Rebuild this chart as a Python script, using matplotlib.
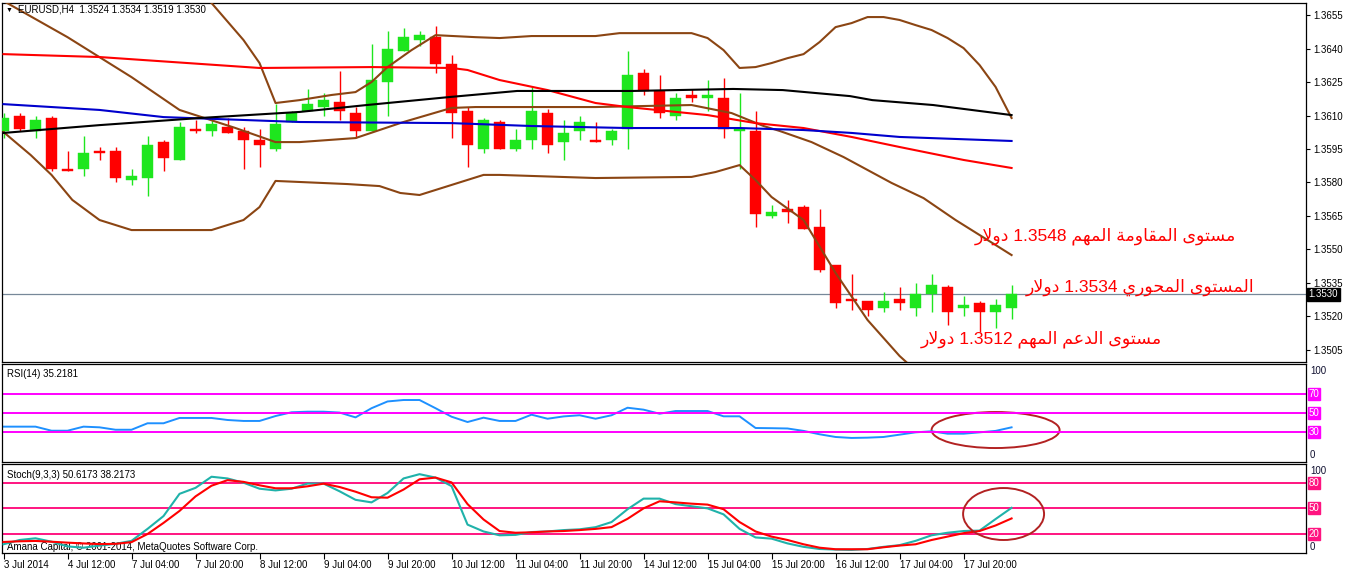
import re
import numpy as np
import matplotlib
matplotlib.use('Agg')
import matplotlib.pyplot as plt
from matplotlib.patches import Ellipse

# EURUSD H4, bars from 3 Jul 20:00 to 18 Jul 08:00
opens = [1.3603, 1.3610, 1.3603, 1.3609, 1.3586, 1.3586, 1.3594, 1.3594, 1.3581, 1.3582,
         1.3598, 1.3590, 1.3604, 1.3603, 1.3605, 1.3603, 1.3599, 1.3595, 1.3607, 1.3612,
         1.3614, 1.3616, 1.3611, 1.3603, 1.3625, 1.3639, 1.3644, 1.3645, 1.3633, 1.3612,
         1.3595, 1.3607, 1.3595, 1.3599, 1.3611, 1.3598, 1.3603, 1.3599, 1.3599, 1.3604,
         1.3629, 1.3621, 1.3610, 1.3619, 1.3618, 1.3618, 1.3603, 1.3603, 1.3565, 1.3568,
         1.3569, 1.3560, 1.3543, 1.3528, 1.3527, 1.3524, 1.3528, 1.3524, 1.3530, 1.3533,
         1.3524, 1.3526, 1.3522, 1.3524]
highs = [1.3611, 1.3611, 1.3610, 1.3610, 1.3594, 1.3601, 1.3596, 1.3596, 1.3586, 1.3601,
         1.3599, 1.3607, 1.3608, 1.3609, 1.3609, 1.3605, 1.3604, 1.3615, 1.3612, 1.3622,
         1.3620, 1.3630, 1.3614, 1.3642, 1.3648, 1.3649, 1.3648, 1.3650, 1.3637, 1.3614,
         1.3609, 1.3608, 1.3604, 1.3623, 1.3613, 1.3608, 1.3610, 1.3607, 1.3604, 1.3639,
         1.3631, 1.3628, 1.3620, 1.3622, 1.3626, 1.3627, 1.3620, 1.3612, 1.3570, 1.3572,
         1.3570, 1.3568, 1.3543, 1.3539, 1.3527, 1.3531, 1.3533, 1.3535, 1.3539, 1.3534,
         1.3529, 1.3527, 1.3528, 1.3534]
lows = [1.3600, 1.3603, 1.3600, 1.3585, 1.3585, 1.3583, 1.3590, 1.3580, 1.3579, 1.3574,
        1.3585, 1.3590, 1.3602, 1.3601, 1.3602, 1.3586, 1.3587, 1.3594, 1.3607, 1.3612,
        1.3610, 1.3608, 1.3600, 1.3603, 1.3610, 1.3639, 1.3641, 1.3629, 1.3600, 1.3587,
        1.3593, 1.3595, 1.3594, 1.3595, 1.3593, 1.3590, 1.3599, 1.3598, 1.3597, 1.3595,
        1.3619, 1.3609, 1.3608, 1.3616, 1.3612, 1.3600, 1.3586, 1.3560, 1.3564, 1.3562,
        1.3559, 1.3540, 1.3524, 1.3523, 1.3520, 1.3522, 1.3523, 1.3520, 1.3522, 1.3516,
        1.3520, 1.3513, 1.3515, 1.3519]
closes = [1.3609, 1.3604, 1.3608, 1.3586, 1.3585, 1.3593, 1.3593, 1.3582, 1.3583, 1.3597,
          1.3591, 1.3605, 1.3603, 1.3606, 1.3602, 1.3599, 1.3597, 1.3606, 1.3611, 1.3615,
          1.3617, 1.3612, 1.3603, 1.3626, 1.3640, 1.3645, 1.3646, 1.3633, 1.3611, 1.3597,
          1.3608, 1.3595, 1.3599, 1.3612, 1.3597, 1.3602, 1.3607, 1.3598, 1.3603, 1.3628,
          1.3621, 1.3611, 1.3618, 1.3618, 1.3619, 1.3604, 1.3604, 1.3566, 1.3567, 1.3567,
          1.3559, 1.3541, 1.3526, 1.3527, 1.3523, 1.3527, 1.3526, 1.3530, 1.3534, 1.3522,
          1.3525, 1.3522, 1.3525, 1.3530]

# overlay lines: (bar index, price)
red_ma_x = [0, 6, 16, 23, 28, 29, 31, 34, 37, 39, 44, 47, 50, 53, 56, 60, 63]
red_ma_y = [1.36375, 1.36362, 1.36313, 1.36317, 1.36313, 1.36304, 1.36259, 1.36214, 1.36156,
            1.36138, 1.36102, 1.36066, 1.36044, 1.36004, 1.35959, 1.35901, 1.35865]
blue_ma_x = [0, 6, 10, 18.5, 28, 33, 39, 46, 50, 53, 56, 63]
blue_ma_y = [1.36151, 1.36125, 1.36093, 1.36071, 1.36066, 1.36053, 1.36044, 1.36044,
             1.36035, 1.36022, 1.36004, 1.35986]
black_ma_x = [0, 6, 12.3, 18.5, 22.7, 27.9, 32.1, 39.3, 45.6, 48.7, 52.9, 54.3, 58.1, 63]
black_ma_y = [1.36022, 1.36057, 1.36089, 1.36116, 1.36147, 1.36183, 1.36210, 1.36210,
              1.36219, 1.36214, 1.36187, 1.36169, 1.36147, 1.36102]

bb_up_x = [9, 13, 15, 16, 17, 18.5, 20.5, 22, 23, 24, 25.5, 27, 29.5, 31, 33, 37, 38.5, 43,
           44, 45, 46, 47, 48, 49, 50, 51, 52, 53, 54, 55, 56, 57, 58, 59, 60, 61, 62, 63]
bb_up_y = [1.36886, 1.36604, 1.36438, 1.36335, 1.36156, 1.36169, 1.36192, 1.36205, 1.36250,
           1.36317, 1.36393, 1.36460, 1.36451, 1.36447, 1.36456, 1.36456, 1.36469, 1.36469,
           1.36447, 1.36393, 1.36313, 1.36317, 1.36335, 1.36357, 1.36375, 1.36429, 1.36496,
           1.36514, 1.36541, 1.36541, 1.36528, 1.36505, 1.36483, 1.36447, 1.36402, 1.36326,
           1.36228, 1.36089]
bb_mid_x = [0, 4, 8, 11, 14.5, 17, 18.5, 22, 25, 28, 29.5, 37, 43, 45.5, 47.5, 48.5, 50.5,
            52.5, 55.5, 57.5, 59.5, 62, 63]
bb_mid_y = [1.36613, 1.36451, 1.36272, 1.36125, 1.36044, 1.35981, 1.35981, 1.35999, 1.36071,
            1.36134, 1.36138, 1.36138, 1.36147, 1.36111, 1.36053, 1.36031, 1.35981, 1.35914,
            1.35798, 1.35730, 1.35632, 1.35520, 1.35475]
bb_low_x = [0, 1.7, 3, 4.3, 6, 8, 13, 15, 16, 17, 21.5, 23.5, 24.8, 26, 28, 30, 31, 37, 43,
            44.5, 46, 47, 48, 50, 52, 54, 56, 58, 63]
bb_low_y = [1.36026, 1.35923, 1.35834, 1.35722, 1.35632, 1.35587, 1.35587, 1.35632, 1.35690,
            1.35807, 1.35793, 1.35784, 1.35753, 1.35744, 1.35789, 1.35834, 1.35834, 1.35820,
            1.35825, 1.35847, 1.35878, 1.35811, 1.35735, 1.35632, 1.35395, 1.35184, 1.35023,
            1.34893, 1.34647]

rsi = [35.9, 35.9, 35.9, 31.7, 31.7, 35.9, 35.2, 32.7, 32.7, 39.4, 39.4, 44.9, 44.9, 44.9,
       42.8, 41.8, 41.8, 46.9, 50.8, 51.4, 51.4, 50.5, 45.5, 55.0, 62.0, 63.5, 63.5, 55.0,
       46.2, 40.7, 45.2, 41.8, 41.8, 48.3, 44.1, 46.5, 47.7, 44.1, 47.7, 55.5, 53.5, 49.3,
       52.1, 52.1, 52.1, 46.6, 46.6, 34.5, 34.3, 34.0, 31.5, 28.0, 25.2, 24.2, 24.5, 25.2,
       27.6, 30.0, 31.1, 28.6, 28.6, 30.0, 31.5, 35.2]
stoch_k = [8, 13, 15, 11, 5.5, 4, 6.5, 8.5, 12, 26, 41, 67, 74, 87, 85, 80, 73, 71, 73, 79,
           79, 70, 60, 57, 68, 85, 90, 86, 76, 31, 23, 18.5, 19, 22.3, 23, 24.6, 25.5, 28, 34,
           49, 61.4, 61.4, 55, 52.5, 50, 43, 26, 16, 14.6, 9, 5, 2.5, 1.8, 1.4, 2.5, 5, 7, 12,
           18.5, 21.5, 23.5, 24, 37.5, 50.6173]
stoch_d = [10.7, 11.5, 11.9, 11, 9.9, 9, 8.2, 8.5, 10.5, 20, 33, 47, 64, 76.5, 83, 81, 77,
           73.5, 73.5, 75.8, 78.9, 75, 69.5, 63, 62.5, 72, 84, 86, 80.4, 55, 37, 23.5, 21.5,
           22, 23, 23.5, 24.6, 26, 28.1, 37.8, 50, 58.3, 57, 55.5, 54.4, 49, 34, 23, 17, 13,
           8, 4, 2.2, 2.2, 2.2, 4.5, 6.5, 8, 13, 17, 21, 23.5, 30, 38.2173]

date_ticks = [0, 4, 8, 12, 16, 20, 24, 28, 32, 36, 40, 44, 48, 52, 56, 60]
date_labels = ['3 Jul 2014', '4 Jul 12:00', '7 Jul 04:00', '7 Jul 20:00', '8 Jul 12:00',
               '9 Jul 04:00', '9 Jul 20:00', '10 Jul 12:00', '11 Jul 04:00', '11 Jul 20:00',
               '14 Jul 12:00', '15 Jul 04:00', '15 Jul 20:00', '16 Jul 12:00', '17 Jul 04:00',
               '17 Jul 20:00']
price_ticks = [1.3505, 1.3520, 1.3535, 1.3550, 1.3565, 1.3580, 1.3595, 1.3610, 1.3625,
               1.3640, 1.3655]
last_price = 1.3530
rsi_levels = [30, 50, 70]
stoch_levels = [20, 50, 80]

notes = [('مستوى المقاومة المهم 1.3548 دولار', 77.0, 1.35542),
         ('المستوى المحوري 1.3534 دولار', 78.2, 1.35310),
         ('مستوى الدعم المهم 1.3512 دولار', 72.4, 1.35077)]

# --- minimal arabic shaping (matplotlib has none)
FORMS = {
    'ا': ('\ufe8d', '\ufe8e', None, None), 'ة': ('\ufe93', '\ufe94', None, None),
    'ت': ('\ufe95', '\ufe96', '\ufe97', '\ufe98'), 'ح': ('\ufea1', '\ufea2', '\ufea3', '\ufea4'),
    'د': ('\ufea9', '\ufeaa', None, None), 'ر': ('\ufead', '\ufeae', None, None),
    'س': ('\ufeb1', '\ufeb2', '\ufeb3', '\ufeb4'), 'ع': ('\ufec9', '\ufeca', '\ufecb', '\ufecc'),
    'ق': ('\ufed5', '\ufed6', '\ufed7', '\ufed8'), 'ل': ('\ufedd', '\ufede', '\ufedf', '\ufee0'),
    'م': ('\ufee1', '\ufee2', '\ufee3', '\ufee4'), 'ه': ('\ufee9', '\ufeea', '\ufeeb', '\ufeec'),
    'و': ('\ufeed', '\ufeee', None, None), 'ى': ('\ufeef', '\ufef0', None, None),
    'ي': ('\ufef1', '\ufef2', '\ufef3', '\ufef4'), 'لا': ('\ufefb', '\ufefc', None, None),
}


def shape_ar(text):
    letters = []
    i = 0
    while i < len(text):
        if text[i] == 'ل' and i + 1 < len(text) and text[i + 1] == 'ا':
            letters.append('لا')
            i += 2
        else:
            letters.append(text[i])
            i += 1
    out = []
    for k, ch in enumerate(letters):
        if ch not in FORMS:
            out.append(ch)
            continue
        prev = letters[k - 1] if k > 0 else None
        nxt = letters[k + 1] if k + 1 < len(letters) else None
        jp = prev in FORMS and FORMS[prev][2] is not None
        jn = nxt in FORMS and FORMS[ch][2] is not None
        iso, fin, ini, med = FORMS[ch]
        out.append(med if jp and jn else fin if jp else ini if jn else iso)
    vis = ''.join(out)[::-1]
    return re.sub(r'[0-9.]+', lambda m: m.group(0)[::-1], vis)


plt.rcParams['font.family'] = ['Liberation Sans', 'DejaVu Sans']
BULL = '#1ee61e'
BEAR = '#ff0000'
W, H = 1346, 571


def box(top, bottom):
    return [2 / W, 1 - bottom / H, 1304 / W, (bottom - top) / H]


def level_box(a, lv, colour):
    a.text(1.002, lv, str(lv), transform=a.get_yaxis_transform(), color='white',
           fontsize=7, va='center', ha='left',
           bbox=dict(boxstyle='square,pad=0.1', fc=colour, ec=colour))


def side_label(a, pos, txt):
    a.text(1.003, pos, txt, transform=a.get_yaxis_transform(), fontsize=7,
           va='center', ha='left', color='#101030')


fig = plt.figure(figsize=(W / 100, H / 100), dpi=100)
ax = fig.add_axes(box(3, 362))
ax_rsi = fig.add_axes(box(364, 461.5))
ax_st = fig.add_axes(box(464, 553))

bars = np.arange(len(opens))
o = np.array(opens)
c = np.array(closes)
cols = np.where(c >= o, BULL, BEAR)
ax.vlines(bars, lows, highs, colors=cols, lw=1, zorder=2)
ax.bar(bars, np.maximum(np.abs(c - o), 0.00005), bottom=np.minimum(o, c), width=0.68,
       color=cols, edgecolor=cols, lw=0.3, zorder=3)

ax.axhline(last_price, color='#778899', lw=0.9, zorder=1)
brown = '#8b4513'
for xs, ys in [(bb_up_x, bb_up_y), (bb_mid_x, bb_mid_y), (bb_low_x, bb_low_y)]:
    ax.plot(xs, ys, color=brown, lw=1.5, zorder=4)
ax.plot(red_ma_x, red_ma_y, color='#ff0000', lw=1.5, zorder=4)
ax.plot(blue_ma_x, blue_ma_y, color='#0000cd', lw=1.5, zorder=4)
ax.plot(black_ma_x, black_ma_y, color='black', lw=1.5, zorder=4)

for txt, x, y in notes:
    ax.text(x, y, shape_ar(txt), color='red', fontsize=12.5, ha='right', va='baseline',
            zorder=6)

xlim = (-0.094, 81.4)
ax.set_xlim(*xlim)
ax.set_ylim(1.34996, 1.36604)
ax.set_yticks(price_ticks)
ax.set_yticklabels(['%.4f' % p for p in price_ticks])
ax.text(1.002, last_price, '%.4f' % last_price, transform=ax.get_yaxis_transform(),
        color='white', fontsize=7, va='center', ha='left',
        bbox=dict(boxstyle='square,pad=0.15', fc='black', ec='black'))

# RSI
ax_rsi.plot(bars, rsi, color='#1e90ff', lw=1.4)
for lv in rsi_levels:
    ax_rsi.axhline(lv, color='#ff00ff', lw=1.4)
    level_box(ax_rsi, lv, '#ff00ff')
side_label(ax_rsi, 93.6, '100')
side_label(ax_rsi, 6.5, '0')
ax_rsi.add_patch(Ellipse((62.0, 32.4), 8.0, 37.3, fill=False, ec='#b22222', lw=1.4))
ax_rsi.set_ylim(-0.2, 100.8)
ax_rsi.text(0.004, 0.87, 'RSI(14) 35.2181', transform=ax_rsi.transAxes, fontsize=7)

# Stochastic
st_pink = '#ff1480'
for lv in stoch_levels:
    ax_st.axhline(lv, color=st_pink, lw=1.4, zorder=1)
    level_box(ax_st, lv, st_pink)
side_label(ax_st, 93.7, '100')
side_label(ax_st, 4.8, '0')
ax_st.text(0.004, 0.03, 'Amana Capital, \u00a9 2001-2014, MetaQuotes Software Corp.',
           transform=ax_st.transAxes, fontsize=7, zorder=2)
ax_st.plot(bars, stoch_k, color='#20b2aa', lw=1.5, zorder=3)
ax_st.plot(bars, stoch_d, color='#ff0000', lw=1.5, zorder=4)
ax_st.add_patch(Ellipse((62.5, 43.4), 5.06, 60.8, fill=False, ec='#b22222', lw=1.4, zorder=5))
ax_st.set_ylim(-2.2, 101.9)
ax_st.text(0.004, 0.84, 'Stoch(9,3,3) 50.6173 38.2173', transform=ax_st.transAxes, fontsize=7)

for a in (ax, ax_rsi, ax_st):
    a.set_xlim(*xlim)
    a.yaxis.tick_right()
    a.tick_params(axis='y', direction='out', length=3, width=0.8, pad=2, labelsize=7)
    for s in a.spines.values():
        s.set_linewidth(0.9)
ax.set_xticks([])
ax_rsi.set_xticks([])
ax_rsi.set_yticks([])
ax_st.set_yticks([])
ax_st.set_xticks(date_ticks)
ax_st.set_xticklabels(date_labels, ha='left')
ax_st.tick_params(axis='x', direction='out', length=4, width=0.8, pad=1, labelsize=7)

fig.text(6 / W, 1 - 10 / H, '\u25bc', fontsize=5, va='center')
fig.text(18 / W, 1 - 10 / H, 'EURUSD,H4  1.3524 1.3534 1.3519 1.3530', fontsize=7, va='center')

fig.savefig('out.png', dpi=100)
